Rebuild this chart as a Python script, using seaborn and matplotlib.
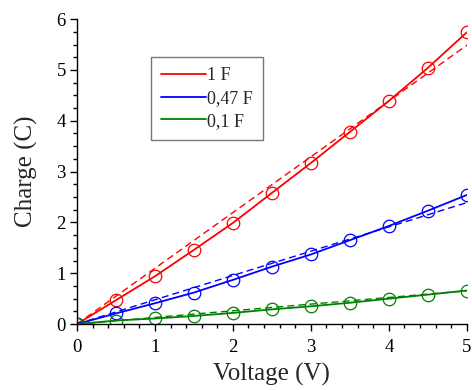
import matplotlib
matplotlib.use("Agg")
import matplotlib.pyplot as plt
import seaborn as sns
import pandas as pd
import numpy as np
from matplotlib.ticker import MultipleLocator

voltage = [0, 0.5, 1.0, 1.5, 2.0, 2.5, 3.0, 3.5, 4.0, 4.5, 5.0]
charge_1F = [0, 0.47, 0.94, 1.46, 1.99, 2.58, 3.17, 3.78, 4.39, 5.04, 5.74]
charge_047F = [0, 0.21, 0.41, 0.62, 0.87, 1.13, 1.37, 1.65, 1.93, 2.23, 2.54]
charge_01F = [0, 0.07, 0.11, 0.16, 0.22, 0.29, 0.35, 0.42, 0.50, 0.58, 0.66]
labels = ["1 F", "0,47 F", "0,1 F"]
fit_slopes = [1.097, 0.478, 0.131]
fit_x = [0, 5.2]

sns.set_theme(style="ticks")
plt.rcParams['font.family'] = ['Liberation Serif', 'DejaVu Serif']

colors = ["#ff0000", "#0000ff", "#008000"]
series = [charge_1F, charge_047F, charge_01F]

fig = plt.figure(figsize=(4.72, 3.90), dpi=100)
ax = fig.add_axes([0.163, 0.169, 0.826, 0.782])

for lab, ys, slope, c in zip(labels, series, fit_slopes, colors):
    df = pd.DataFrame({"V": voltage, "Q": ys})
    sns.lineplot(data=df, x="V", y="Q", ax=ax, color=c, lw=1.3, label=lab)
    ax.plot(voltage, ys, linestyle="none", marker="o", markersize=9,
            markerfacecolor="none", markeredgecolor=c, markeredgewidth=0.9)
    fx = np.array(fit_x)
    sns.lineplot(x=fx, y=slope * fx, ax=ax, color=c, lw=1.0,
                 linestyle=(0, (5, 3)), label="_nolegend_")

ax.set_xlim(0, 5)
ax.set_ylim(0, 6)
ax.xaxis.set_major_locator(MultipleLocator(1))
ax.xaxis.set_minor_locator(MultipleLocator(0.2))
ax.yaxis.set_major_locator(MultipleLocator(1))
ax.yaxis.set_minor_locator(MultipleLocator(0.25))
ax.tick_params(which="major", direction="out", length=5, width=1.0,
               labelsize=13.5, colors="black")
ax.tick_params(axis="x", which="major", pad=6)
ax.tick_params(axis="y", which="major", pad=3)
ax.tick_params(which="minor", direction="out", length=3, width=1.0, colors="black")
for s in ["top", "right"]:
    ax.spines[s].set_visible(False)
for s in ["left", "bottom"]:
    ax.spines[s].set_color("black")
    ax.spines[s].set_linewidth(1.0)

ax.set_xlabel("Voltage (V)", fontsize=18, labelpad=5)
ax.set_ylabel("Charge (C)", fontsize=18, labelpad=13)

leg = ax.legend(loc="upper left", bbox_to_anchor=(0.19, 0.875), fontsize=13,
                frameon=True, fancybox=False, handlelength=2.5,
                handletextpad=0.05, borderpad=0.55, labelspacing=0.32,
                borderaxespad=0)
leg.get_frame().set_edgecolor("#555555")
leg.get_frame().set_linewidth(1.0)

fig.savefig("out.png", dpi=100)
